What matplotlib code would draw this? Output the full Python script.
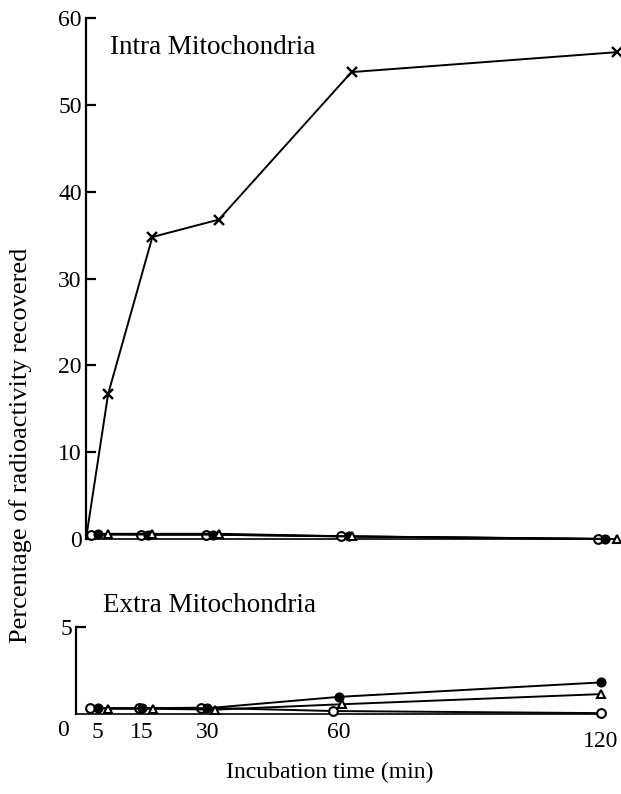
import matplotlib
matplotlib.use("Agg")
import matplotlib.pyplot as plt
from matplotlib.transforms import ScaledTranslation

# ---- data ----
intra_x_t = [0, 5, 15, 30, 60, 120]
intra_x_v = [0, 16.7, 34.8, 36.8, 53.8, 56.1]

intra_open_t = [1.2, 12.5, 27.2, 57.6, 115.7]
intra_open_v = [0.5, 0.5, 0.5, 0.3, 0.0]
intra_fill_t = [2.6, 14.1, 28.7, 59.4, 117.4]
intra_fill_v = [0.6, 0.5, 0.5, 0.3, 0.0]
intra_tri_t = [5, 15, 30, 60, 120]
intra_tri_v = [0.6, 0.6, 0.6, 0.3, 0.0]

extra_open_t = [3.3, 14.3, 28.6, 58.7, 120]
extra_open_v = [0.33, 0.33, 0.36, 0.17, 0.05]
extra_fill_t = [5, 15, 30, 60, 120]
extra_fill_v = [0.33, 0.33, 0.33, 0.98, 1.81]
extra_tri_t = [7.3, 17.5, 31.7, 60.9, 120.1]
extra_tri_v = [0.30, 0.30, 0.25, 0.56, 1.14]

top_yticks = [0, 10, 20, 30, 40, 50, 60]
bottom_xticks = [5, 15, 30, 60, 120]

SERIF = "Liberation Serif"
W, H = 621, 794
fig = plt.figure(figsize=(W / 100, H / 100), dpi=100)

def ax_at(left, right, top, bottom):
    return fig.add_axes([left / W, 1 - bottom / H, (right - left) / W, (bottom - top) / H])

ax1 = ax_at(86, 617, 18.3, 539)
ax2 = ax_at(76, 601, 626.7, 714)

lw = 1.4
ms = 6.3
for ax in (ax1, ax2):
    for s in ("top", "right"):
        ax.spines[s].set_visible(False)
    ax.spines["left"].set_linewidth(1.6)
    ax.spines["bottom"].set_linewidth(1.2)
    ax.set_xlim(0, 120)
    ax.tick_params(axis="y", direction="in", length=7, width=1.6, pad=3,
                   labelsize=17)
    ax.tick_params(axis="x", length=0)

# top panel
ax1.set_ylim(0, 60)
ax1.set_yticks(top_yticks)
ax1.set_yticklabels([str(v) for v in top_yticks], family=SERIF, fontsize=17)
ax1.set_xticks([])
ax1.plot(intra_x_t, intra_x_v, color="black", lw=lw, marker="x", ms=6.5, mew=1.7,
         markevery=[1, 2, 3, 4, 5], clip_on=False)
ax1.plot(intra_open_t, intra_open_v, color="black", lw=lw, marker="o", ms=ms,
         mfc="white", mec="black", mew=1.5, clip_on=False, zorder=3)
ax1.plot(intra_fill_t, intra_fill_v, color="black", lw=lw, marker="o", ms=ms,
         mfc="black", mec="black", clip_on=False, zorder=3)
ax1.plot(intra_tri_t, intra_tri_v, color="black", lw=lw, marker="^", ms=ms,
         mfc="white", mec="black", mew=1.5, clip_on=False, zorder=3)
ax1.text(0.045, 0.943, "Intra Mitochondria", transform=ax1.transAxes,
         family=SERIF, fontsize=19.5, ha="left", va="center")

# bottom panel
ax2.set_ylim(0, 5)
ax2.set_yticks([5])
ax2.set_yticklabels(["5"], family=SERIF, fontsize=17)
ax2.set_xticks(bottom_xticks)
ax2.set_xticklabels([str(v) for v in bottom_xticks], family=SERIF, fontsize=17)
ax2.tick_params(axis="x", pad=6)
# the last label sits a little lower in the original
last = ax2.get_xticklabels()[-1]
last.set_transform(last.get_transform() + ScaledTranslation(0, -9 / 100, fig.dpi_scale_trans))

ax2.plot(extra_open_t, extra_open_v, color="black", lw=lw, marker="o", ms=ms,
         mfc="white", mec="black", mew=1.5, clip_on=False, zorder=3)
ax2.plot(extra_fill_t, extra_fill_v, color="black", lw=lw, marker="o", ms=ms,
         mfc="black", mec="black", clip_on=False, zorder=3)
ax2.plot(extra_tri_t, extra_tri_v, color="black", lw=lw, marker="^", ms=ms,
         mfc="white", mec="black", mew=1.5, clip_on=False, zorder=3)
fig.text(103 / W, 1 - 606 / H, "Extra Mitochondria", family=SERIF, fontsize=19.5,
         ha="left", va="center")
fig.text(63 / W, 1 - 731 / H, "0", family=SERIF, fontsize=17,
         ha="center", va="center")

fig.text(21 / W, 1 - 445 / H, "Percentage of radioactivity recovered",
         family=SERIF, fontsize=19, rotation=90, ha="center", va="center")
fig.text(330 / W, 1 - 772 / H, "Incubation time (min)", family=SERIF,
         fontsize=17, ha="center", va="center")

fig.savefig("out.png", dpi=100, facecolor="white")
